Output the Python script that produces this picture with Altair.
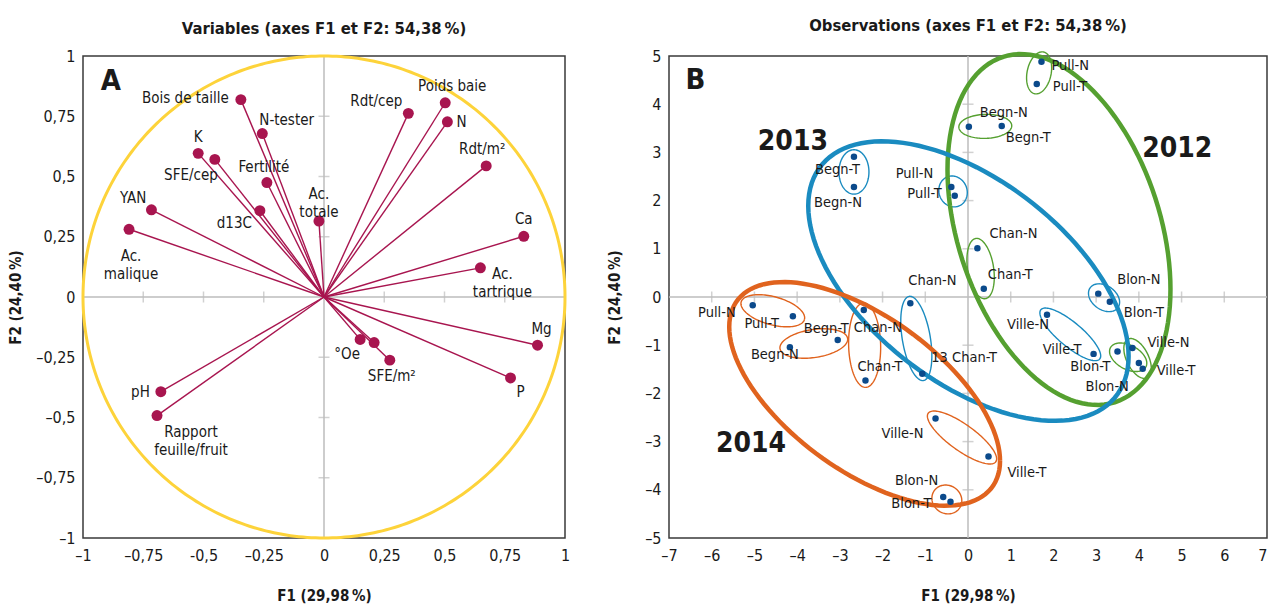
import altair as alt
import pandas as pd
import numpy as np

# ------------------------------------------------------------------
# Panel A : variables (correlation circle)
# ------------------------------------------------------------------
var_labels = ["Bois de taille", "N-tester", "K", "SFE/cep", "Fertilité", "d13C",
              "Ac.\ntotale", "YAN", "Ac.\nmalique", "Rdt/cep", "Poids baie", "N",
              "Rdt/m²", "Ca", "Ac.\ntartrique", "pH", "Rapport\nfeuille/fruit",
              "°Oe", "", "SFE/m²", "Mg", "P"]
var_f1 = [-0.345, -0.256, -0.522, -0.453, -0.237, -0.266, -0.021, -0.716, -0.809,
          0.350, 0.503, 0.512, 0.673, 0.829, 0.649, -0.677, -0.693, 0.150, 0.208,
          0.273, 0.886, 0.774]
var_f2 = [0.819, 0.678, 0.596, 0.571, 0.475, 0.358, 0.315, 0.362, 0.281,
          0.762, 0.806, 0.727, 0.544, 0.252, 0.121, -0.393, -0.492, -0.176, -0.189,
          -0.262, -0.200, -0.336]

A_TICK_VALUES = [-1, -0.75, -0.5, -0.25, 0, 0.25, 0.5, 0.75, 1]
A_X_LABELS = ["–1", "–0,75", "-0,5", "–0,25", "0", "0,25", "0,5", "0,75", "1"]
A_Y_LABELS = ["–1", "–0,75", "–0,5", "–0,25", "0", "0,25", "0,5", "0,75", "1"]
A_INNER_TICKS = [-0.75, -0.5, -0.25, 0.25, 0.5, 0.75]

# ------------------------------------------------------------------
# Panel B : observations
# ------------------------------------------------------------------
obs_year = ["2012"] * 10 + ["2013"] * 10 + ["2014"] * 10
obs_label = ["Pull-N", "Pull-T", "Begn-N", "Begn-T", "Chan-N", "Chan-T", "Blon-N", "Blon-T", "Ville-N", "Ville-T",
             "Begn-T", "Begn-N", "Pull-N", "Pull-T", "Chan-N", "13 Chan-T", "Blon-N", "Blon-T", "Ville-N", "Ville-T",
             "Pull-N", "Pull-T", "Begn-N", "Begn-T", "Chan-N", "Chan-T", "Ville-N", "Ville-T", "Blon-N", "Blon-T"]
obs_f1 = [1.72, 1.61, 0.02, 0.79, 0.22, 0.37, 4.00, 3.50, 3.85, 4.09,
          -2.67, -2.67, -0.39, -0.31, -1.35, -1.07, 3.05, 3.32, 1.85, 2.94,
          -5.04, -4.10, -4.17, -3.05, -2.44, -2.40, -0.76, 0.48, -0.58, -0.41]
obs_f2 = [4.88, 4.42, 3.53, 3.55, 1.01, 0.17, -1.37, -1.13, -1.06, -1.49,
          2.91, 2.28, 2.28, 2.10, -0.13, -1.59, 0.07, -0.10, -0.37, -1.18,
          -0.17, -0.40, -1.04, -0.89, -0.27, -1.73, -2.52, -3.31, -4.15, -4.25]

B_X_VALUES = list(range(-7, 8))
B_Y_VALUES = list(range(-5, 6))
B_X_LABELS = ["–7", "–6", "–5", "–4", "–3", "–2", "–1", "0", "1", "2", "3", "4", "5", "6", "7"]
B_Y_LABELS = ["–5", "–4", "–3", "–2", "–1", "0", "1", "2", "3", "4", "5"]
B_INNER_X = [-6, -5, -4, -3, -2, -1, 1, 2, 3, 4, 5, 6]
B_INNER_Y = [-4, -3, -2, -1, 1, 2, 3, 4]

years = ["2012", "2013", "2014"]
year_label_f1 = [4.90, -4.10, -5.08]
year_label_f2 = [3.08, 3.22, -3.05]

# big group ellipses: centre, half-width (F1), half-height (F2), F2 offset of rightmost point
big_ell_year = ["2012", "2013", "2014"]
big_ell_cx = [2.13, 0.01, -2.42]
big_ell_cy = [1.40, 0.33, -2.01]
big_ell_a = [2.61, 3.75, 3.17]
big_ell_h = [3.64, 2.90, 2.32]
big_ell_c = [-1.24, -1.56, -1.39]

# small ellipses around pairs: (year, label 1, label 2, end padding px, half-width px)
small_ell = [
    ("2012", "Pull-N", "Pull-T", 10, 12), ("2012", "Begn-N", "Begn-T", 10, 12),
    ("2012", "Chan-N", "Chan-T", 10, 13), ("2012", "Blon-T", "Blon-N", 8, 12),
    ("2012", "Ville-N", "Ville-T", 10, 11),
    ("2013", "Begn-T", "Begn-N", 7, 15), ("2013", "Pull-N", "Pull-T", 11, 14),
    ("2013", "Chan-N", "13 Chan-T", 7, 14), ("2013", "Blon-N", "Blon-T", 10, 12),
    ("2013", "Ville-N", "Ville-T", 8, 12),
    ("2014", "Pull-N", "Pull-T", 12, 14), ("2014", "Begn-N", "Begn-T", 10, 14),
    ("2014", "Chan-N", "Chan-T", 7, 16), ("2014", "Ville-N", "Ville-T", 9, 13),
    ("2014", "Blon-N", "Blon-T", 11, 14),
]

# ------------------------------------------------------------------
# styling / layout
# ------------------------------------------------------------------
FONT = "Liberation Sans Narrow, DejaVu Sans Condensed, Arial Narrow, sans-serif"
CRIMSON = "#A8154F"
YELLOW = "#FDD33A"
GREY = "#BDBDBD"
DOT = "#0B4A8B"
YEAR_COLORS = ["#55A030", "#1A8BC0", "#E0631E"]
INK = "#1a1a1a"
PCT = "\u2009%"

A_W, A_H = 482, 482
B_W, B_H = 598, 482

# label placement for panel A: dx, dy, align
A_LAYOUT = {
    "Bois de taille": (-12, -2, "right"), "N-tester": (-3, -14, "left"),
    "K": (0, -16, "center"), "SFE/cep": (3, 16, "right"), "Fertilité": (-3, -16, "center"),
    "d13C": (-8, 12, "right"), "Ac.\ntotale": (0, -27, "center"), "YAN": (-5, -12, "right"),
    "Ac.\nmalique": (2, 27, "center"), "Rdt/cep": (-6, -12, "right"),
    "Poids baie": (7, -17, "center"), "N": (9, 0, "left"), "Rdt/m²": (-4, -17, "center"),
    "Ca": (0, -17, "center"), "Ac.\ntartrique": (22, 6, "center"), "pH": (-11, 0, "right"),
    "Rapport\nfeuille/fruit": (34, 16, "center"), "°Oe": (-13, 15, "center"),
    "SFE/m²": (2, 16, "center"), "Mg": (4, -16, "center"), "P": (10, 14, "center"),
}

B_LAYOUT = {
    ("2012", "Pull-N"): (10, 4, "left"), ("2012", "Pull-T"): (16, 3, "left"),
    ("2012", "Begn-N"): (11, -14, "left"), ("2012", "Begn-T"): (4, 12, "left"),
    ("2012", "Chan-N"): (12, -14, "left"), ("2012", "Chan-T"): (4, -14, "left"),
    ("2012", "Blon-T"): (-7, 16, "right"), ("2012", "Blon-N"): (-10, 24, "right"),
    ("2012", "Ville-N"): (15, -5, "left"), ("2012", "Ville-T"): (14, 2, "left"),
    ("2013", "Begn-T"): (6, 13, "right"), ("2013", "Begn-N"): (8, 16, "right"),
    ("2013", "Pull-N"): (-18, -13, "right"), ("2013", "Pull-T"): (-13, -2, "right"),
    ("2013", "Chan-N"): (22, -22, "center"), ("2013", "13 Chan-T"): (9, -16, "left"),
    ("2013", "Blon-N"): (19, -14, "left"), ("2013", "Blon-T"): (14, 11, "left"),
    ("2013", "Ville-N"): (2, 10, "right"), ("2013", "Ville-T"): (-12, -4, "right"),
    ("2014", "Pull-N"): (-17, 8, "right"), ("2014", "Pull-T"): (-14, 8, "right"),
    ("2014", "Begn-T"): (11, -11, "right"), ("2014", "Begn-N"): (9, 8, "right"),
    ("2014", "Chan-N"): (-10, 18, "left"), ("2014", "Chan-T"): (-8, -13, "left"),
    ("2014", "Ville-N"): (-12, 16, "right"), ("2014", "Ville-T"): (19, 16, "left"),
    ("2014", "Blon-N"): (-5, -16, "right"), ("2014", "Blon-T"): (-19, 2, "right"),
}


def label_expr(values, labels):
    vals = ",".join(str(v) for v in values)
    labs = ",".join("'" + s + "'" for s in labels)
    return f"[{labs}][indexof([{vals}], datum.value)]"


def xenc(domain, values, labels, field="F1", last_right=False):
    extra = {}
    if last_right:
        extra["labelAlign"] = {"condition": {"test": f"datum.value == {values[-1]}", "value": "right"},
                               "value": "center"}
    return alt.X(f"{field}:Q", scale=alt.Scale(domain=domain, nice=False, zero=False),
                 axis=alt.Axis(values=values, labelExpr=label_expr(values, labels),
                               title="F1 (29,98" + PCT + ")", labelPadding=9, titlePadding=25, **extra))


def yenc(domain, values, labels, title_pad, field="F2"):
    return alt.Y(f"{field}:Q", scale=alt.Scale(domain=domain, nice=False, zero=False),
                 axis=alt.Axis(values=values, labelExpr=label_expr(values, labels),
                               title="F2 (24,40" + PCT + ")", labelPadding=8, titlePadding=title_pad))


# ---------------- Panel A -----------------
AX = lambda f="F1": xenc([-1, 1], A_TICK_VALUES, A_X_LABELS, f)
AY = lambda f="F2": yenc([-1, 1], A_TICK_VALUES, A_Y_LABELS, 12, f)

dfA = pd.DataFrame({"label": var_labels, "F1": var_f1, "F2": var_f2})
dfA["o"] = 0.0

zeroA_v = alt.Chart(pd.DataFrame({"F1": [0.0]})).mark_rule(color=GREY, strokeWidth=1.5).encode(x=AX())
zeroA_h = alt.Chart(pd.DataFrame({"F2": [0.0]})).mark_rule(color=GREY, strokeWidth=1.5).encode(y=AY())
ticksA_x = alt.Chart(pd.DataFrame({"F1": A_INNER_TICKS, "F2": 0.0})).mark_tick(
    orient="vertical", size=11, thickness=1.5, color=GREY).encode(x=AX(), y=AY())
ticksA_y = alt.Chart(pd.DataFrame({"F2": A_INNER_TICKS, "F1": 0.0})).mark_tick(
    orient="horizontal", size=11, thickness=1.5, color=GREY).encode(x=AX(), y=AY())

theta = np.linspace(0, 2 * np.pi, 361)
circ = pd.DataFrame({"F1": np.cos(theta), "F2": np.sin(theta), "k": np.arange(len(theta))})
circleA = alt.Chart(circ).mark_line(color=YELLOW, strokeWidth=3).encode(x=AX(), y=AY(), order="k:Q")

raysA = alt.Chart(dfA).mark_rule(color=CRIMSON, strokeWidth=1.4).encode(
    x=AX("o"), y=AY("o"), x2="F1:Q", y2="F2:Q")
dotsA = alt.Chart(dfA).mark_circle(color=CRIMSON, size=120, opacity=1).encode(x=AX(), y=AY())

labA = []
for lab, (dx, dy, al) in A_LAYOUT.items():
    labA.append(alt.Chart(dfA).transform_filter(alt.datum.label == lab).mark_text(
        dx=dx, dy=dy, align=al, baseline="middle", font=FONT, fontSize=15, color=INK,
        lineBreak="\n", lineHeight=18).encode(x=AX(), y=AY(), text="label:N"))

letterA = alt.Chart(pd.DataFrame({"F1": [-0.884], "F2": [0.897], "t": ["A"]})).mark_text(
    font=FONT, fontSize=29, fontWeight="bold", color=INK, baseline="middle", align="center").encode(
    x=AX(), y=AY(), text="t:N")

panelA = alt.layer(zeroA_v, zeroA_h, ticksA_x, ticksA_y, circleA, raysA, dotsA, *labA, letterA).properties(
    width=A_W, height=A_H, title="Variables (axes F1 et F2: 54,38" + PCT + ")")

# ---------------- Panel B -----------------
BX = lambda f="F1": xenc([-7, 7], B_X_VALUES, B_X_LABELS, f, last_right=True)
BY = lambda f="F2": yenc([-5, 5], B_Y_VALUES, B_Y_LABELS, 22, f)
SX, SY = B_W / 14.0, B_H / 10.0

dfB = pd.DataFrame({"year": obs_year, "label": obs_label, "F1": obs_f1, "F2": obs_f2})
dfB["key"] = dfB["year"] + "|" + dfB["label"]
pos = {(y, l): (a, b) for y, l, a, b in zip(obs_year, obs_label, obs_f1, obs_f2)}

rows = []
t = np.linspace(0, 2 * np.pi, 121)
for i, (yr, l1, l2, pad, minor) in enumerate(small_ell):
    p, q = pos[(yr, l1)], pos[(yr, l2)]
    px_, py_ = p[0] * SX, p[1] * SY
    qx_, qy_ = q[0] * SX, q[1] * SY
    mx, my = (px_ + qx_) / 2, (py_ + qy_) / 2
    dx, dy = qx_ - px_, qy_ - py_
    L = float(np.hypot(dx, dy))
    ux, uy = (dx / L, dy / L) if L > 1e-9 else (0.0, 1.0)
    A = L / 2 + pad
    ex = mx + A * np.cos(t) * ux - minor * np.sin(t) * uy
    ey = my + A * np.cos(t) * uy + minor * np.sin(t) * ux
    for k in range(len(t)):
        rows.append({"eid": f"s{i}", "year": yr, "F1": ex[k] / SX, "F2": ey[k] / SY, "k": k})
dfSmall = pd.DataFrame(rows)

rows = []
for yr, cx, cy, a, h, c in zip(big_ell_year, big_ell_cx, big_ell_cy, big_ell_a, big_ell_h, big_ell_c):
    d = np.sqrt(h * h - c * c)
    for k, tt in enumerate(t):
        rows.append({"eid": "b" + yr, "year": yr, "F1": cx + a * np.cos(tt),
                     "F2": cy + c * np.cos(tt) + d * np.sin(tt), "k": k})
dfBig = pd.DataFrame(rows)

ycolor = alt.Color("year:N", scale=alt.Scale(domain=years, range=YEAR_COLORS), legend=None)

zeroB_v = alt.Chart(pd.DataFrame({"F1": [0.0]})).mark_rule(color=GREY, strokeWidth=1.5).encode(x=BX())
zeroB_h = alt.Chart(pd.DataFrame({"F2": [0.0]})).mark_rule(color=GREY, strokeWidth=1.5).encode(y=BY())
ticksB_x = alt.Chart(pd.DataFrame({"F1": B_INNER_X, "F2": 0.0})).mark_tick(
    orient="vertical", size=11, thickness=1.5, color=GREY).encode(x=BX(), y=BY())
ticksB_y = alt.Chart(pd.DataFrame({"F2": B_INNER_Y, "F1": 0.0})).mark_tick(
    orient="horizontal", size=11, thickness=1.5, color=GREY).encode(x=BX(), y=BY())

smallB = alt.Chart(dfSmall).mark_line(strokeWidth=1.4).encode(
    x=BX(), y=BY(), color=ycolor, detail="eid:N", order="k:Q")
bigB = alt.Chart(dfBig).mark_line(strokeWidth=4.5).encode(
    x=BX(), y=BY(), color=ycolor, detail="eid:N", order="k:Q")
dotsB = alt.Chart(dfB).mark_circle(color=DOT, size=42, opacity=1).encode(x=BX(), y=BY())

labB = []
for (yr, lab), (dx, dy, al) in B_LAYOUT.items():
    key = yr + "|" + lab
    labB.append(alt.Chart(dfB).transform_filter(alt.datum.key == key).mark_text(
        dx=dx, dy=dy, align=al, baseline="middle", font=FONT, fontSize=14.5, color=INK).encode(
        x=BX(), y=BY(), text="label:N"))

yearsB = alt.Chart(pd.DataFrame({"F1": year_label_f1, "F2": year_label_f2, "t": years})).mark_text(
    font=FONT, fontSize=28, fontWeight="bold", color=INK, baseline="middle", align="center").encode(
    x=BX(), y=BY(), text="t:N")
letterB = alt.Chart(pd.DataFrame({"F1": [-6.38], "F2": [4.5], "t": ["B"]})).mark_text(
    font=FONT, fontSize=29, fontWeight="bold", color=INK, baseline="middle", align="center").encode(
    x=BX(), y=BY(), text="t:N")

panelB = alt.layer(zeroB_v, zeroB_h, ticksB_x, ticksB_y, smallB, bigB, dotsB, *labB, yearsB, letterB).properties(
    width=B_W, height=B_H, title="Observations (axes F1 et F2: 54,38" + PCT + ")")

chart = alt.hconcat(panelA, panelB, spacing=104, bounds="flush").properties(
    padding={"left": 0, "top": 8, "right": 0, "bottom": 0}
).configure_view(stroke="#3a3a3a", strokeWidth=1.5).configure_axis(
    labelFont=FONT, labelFontSize=16, titleFont=FONT, titleFontSize=15, titleFontWeight="bold",
    labelColor=INK, titleColor=INK, ticks=False, tickSize=0, domain=False, grid=False,
    labelFlush=False, labelOverlap=False
).configure_title(font=FONT, fontSize=16.5, fontWeight="bold", color=INK, offset=11, anchor="middle")

chart.save("out.html", embed_options={"renderer": "svg", "actions": False})
